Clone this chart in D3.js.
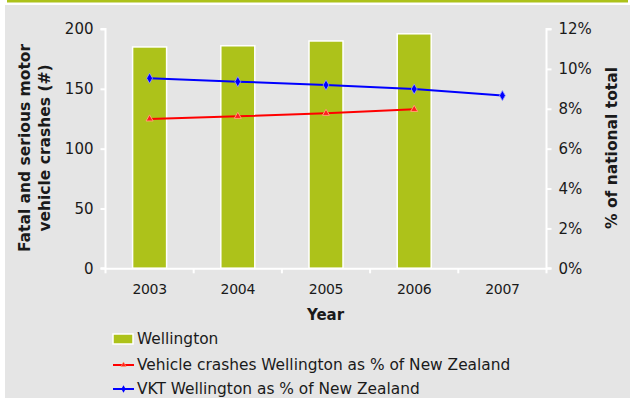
<!DOCTYPE html>
<html>
<head>
<meta charset="utf-8">
<script src="https://cdn.jsdelivr.net/npm/d3@7"></script>
<style>
  html, body { margin: 0; padding: 0; background: #ffffff; }
  svg { display: block; font-family: "DejaVu Sans", Verdana, sans-serif; }
</style>
</head>
<body>
<svg id="chart" width="630" height="398"></svg>
<script>
// Data
const years = ["2003", "2004", "2005", "2006", "2007"];
const crashes = [185, 186, 190, 196, null];            // Wellington fatal + serious crashes (#)
const crashShare = [7.49, 7.62, 7.77, 7.97, null];    // Vehicle crashes Wellington as % of NZ
const vktShare = [9.53, 9.36, 9.19, 8.99, 8.66];      // VKT Wellington as % of NZ
const leftTicks = [0, 50, 100, 150, 200];
const rightTicks = [0, 2, 4, 6, 8, 10, 12];
const legendLabels = [
  "Wellington",
  "Vehicle crashes Wellington as % of New Zealand",
  "VKT Wellington as % of New Zealand"
];

const GREEN = "#adc21a";
const BG = "#e5e5e5";

const svg = d3.select("#chart");

// Panel background and top accent band
svg.append("rect").attr("x", 5).attr("y", 5).attr("width", 625).attr("height", 393).attr("fill", BG);
svg.append("rect").attr("x", 7).attr("y", 0).attr("width", 621).attr("height", 2.5).attr("fill", GREEN);

const plot = { left: 105.5, right: 546.5, top: 29, bottom: 268.3 };

const x = d3.scaleBand().domain(years).range([plot.left, plot.right]).paddingInner(0).paddingOuter(0);
const yL = d3.scaleLinear().domain([0, 200]).range([plot.bottom, plot.top]);
const yR = d3.scaleLinear().domain([0, 12]).range([plot.bottom, plot.top]);

const axisColor = "#ffffff";
const textColor = "#1a1a1a";

// Bars
const barW = 34;
svg.append("g").selectAll("rect")
  .data(years.map((yr, i) => ({ yr, v: crashes[i] })).filter(d => d.v != null))
  .join("rect")
  .attr("x", d => x(d.yr) + x.bandwidth() / 2 - barW / 2)
  .attr("y", d => yL(d.v))
  .attr("width", barW)
  .attr("height", d => yL(0) - yL(d.v))
  .attr("fill", GREEN)
  .attr("stroke", "#ffffff")
  .attr("stroke-width", 1.5);

// Left axis
const gL = svg.append("g").attr("transform", `translate(${plot.left},0)`)
  .call(d3.axisLeft(yL).tickValues(leftTicks).tickSize(5).tickPadding(7));
// Right axis
const gR = svg.append("g").attr("transform", `translate(${plot.right},0)`)
  .call(d3.axisRight(yR).tickValues(rightTicks).tickSize(5).tickPadding(7).tickFormat(d => d + "%"));
// Bottom axis: ticks at category boundaries
const boundaries = years.map(y => x(y)).concat([plot.right]);
const gB = svg.append("g").attr("transform", `translate(0,${plot.bottom})`)
  .call(d3.axisBottom(x).tickSize(0).tickPadding(16));
gB.selectAll(".bound").data(boundaries).join("line").attr("class", "bound")
  .attr("x1", d => d).attr("x2", d => d).attr("y1", 0).attr("y2", 5)
  .attr("stroke", axisColor).attr("stroke-width", 2);

[gL, gR, gB].forEach(g => {
  g.selectAll(".domain").attr("stroke", axisColor).attr("stroke-width", 2);
  g.selectAll(".tick line").attr("stroke", axisColor).attr("stroke-width", 2);
  g.selectAll(".tick text").attr("fill", textColor)
    .attr("font-family", "'DejaVu Sans', Verdana, sans-serif");
});
gL.selectAll(".tick text").attr("font-size", 15);
gR.selectAll(".tick text").attr("font-size", 15);
gB.selectAll(".tick text").attr("font-size", 14).attr("letter-spacing", -0.3);
gL.select(".domain").attr("d", `M-5,${plot.top}H0V${plot.bottom}H-5`);
gR.select(".domain").attr("d", `M5,${plot.top}H0V${plot.bottom}H5`);

// Lines
const lineR = d3.line().defined(d => d.v != null)
  .x(d => x(d.yr) + x.bandwidth() / 2).y(d => yR(d.v));

const crashPts = years.map((yr, i) => ({ yr, v: crashShare[i] }));
const vktPts = years.map((yr, i) => ({ yr, v: vktShare[i] }));

svg.append("path").datum(vktPts).attr("d", lineR)
  .attr("fill", "none").attr("stroke", "#0000ff").attr("stroke-width", 2);
svg.append("path").datum(crashPts).attr("d", lineR)
  .attr("fill", "none").attr("stroke", "#ff0000").attr("stroke-width", 2);

// Markers
const diamond = d3.symbol().type(d3.symbolDiamond).size(30);
const triangle = d3.symbol().type(d3.symbolTriangle).size(22);
svg.append("g").selectAll("path").data(vktPts.filter(d => d.v != null)).join("path")
  .attr("transform", d => `translate(${x(d.yr) + x.bandwidth() / 2},${yR(d.v)})`)
  .attr("d", diamond).attr("fill", "#0000ff").attr("stroke", "#9aa0ff").attr("stroke-width", 0.8);
svg.append("g").selectAll("path").data(crashPts.filter(d => d.v != null)).join("path")
  .attr("transform", d => `translate(${x(d.yr) + x.bandwidth() / 2},${yR(d.v)})`)
  .attr("d", triangle).attr("fill", "#ff2020").attr("stroke", "#ffa070").attr("stroke-width", 1);

// Axis titles
svg.append("text")
  .attr("x", (plot.left + plot.right) / 2 - 0.5).attr("y", 319.5)
  .attr("text-anchor", "middle").attr("font-size", 15).attr("font-weight", "bold")
  .attr("fill", textColor).text("Year");

const leftTitle = svg.append("text")
  .attr("transform", `translate(25,148) rotate(-90)`)
  .attr("text-anchor", "middle").attr("font-size", 15.5).attr("font-weight", "bold")
  .attr("fill", textColor);
leftTitle.append("tspan").attr("x", 0).attr("dy", "0.35em").text("Fatal and serious motor");
leftTitle.append("tspan").attr("x", 0).attr("dy", 20).text("vehicle crashes (#)");

svg.append("text")
  .attr("transform", `translate(612,148) rotate(-90)`)
  .attr("text-anchor", "middle").attr("dy", "0.35em").attr("font-size", 15.5).attr("font-weight", "bold")
  .attr("fill", textColor).text("% of national total");

// Legend
const legend = svg.append("g").attr("transform", "translate(113,0)");
const rowY = [339, 365, 389];
legend.append("rect").attr("x", 0).attr("y", rowY[0] - 5).attr("width", 20).attr("height", 10)
  .attr("fill", GREEN).attr("stroke", "#ffffff").attr("stroke-width", 1.5);
legend.append("line").attr("x1", 0).attr("x2", 21).attr("y1", rowY[1]).attr("y2", rowY[1])
  .attr("stroke", "#ff0000").attr("stroke-width", 2);
legend.append("path").attr("transform", `translate(10.5,${rowY[1]})`)
  .attr("d", d3.symbol().type(d3.symbolTriangle).size(12)).attr("fill", "#ff2020").attr("stroke", "#ffa070").attr("stroke-width", 0.6);
legend.append("line").attr("x1", 0).attr("x2", 21).attr("y1", rowY[2]).attr("y2", rowY[2])
  .attr("stroke", "#0000ff").attr("stroke-width", 2);
legend.append("path").attr("transform", `translate(10.5,${rowY[2]})`)
  .attr("d", d3.symbol().type(d3.symbolDiamond).size(16)).attr("fill", "#0000ff");
legend.selectAll("text.lbl").data(legendLabels).join("text").attr("class", "lbl")
  .attr("x", 24).attr("y", (d, i) => rowY[i]).attr("dy", "0.35em")
  .attr("font-size", 15.4).attr("fill", textColor).text(d => d);
</script>
</body>
</html>
